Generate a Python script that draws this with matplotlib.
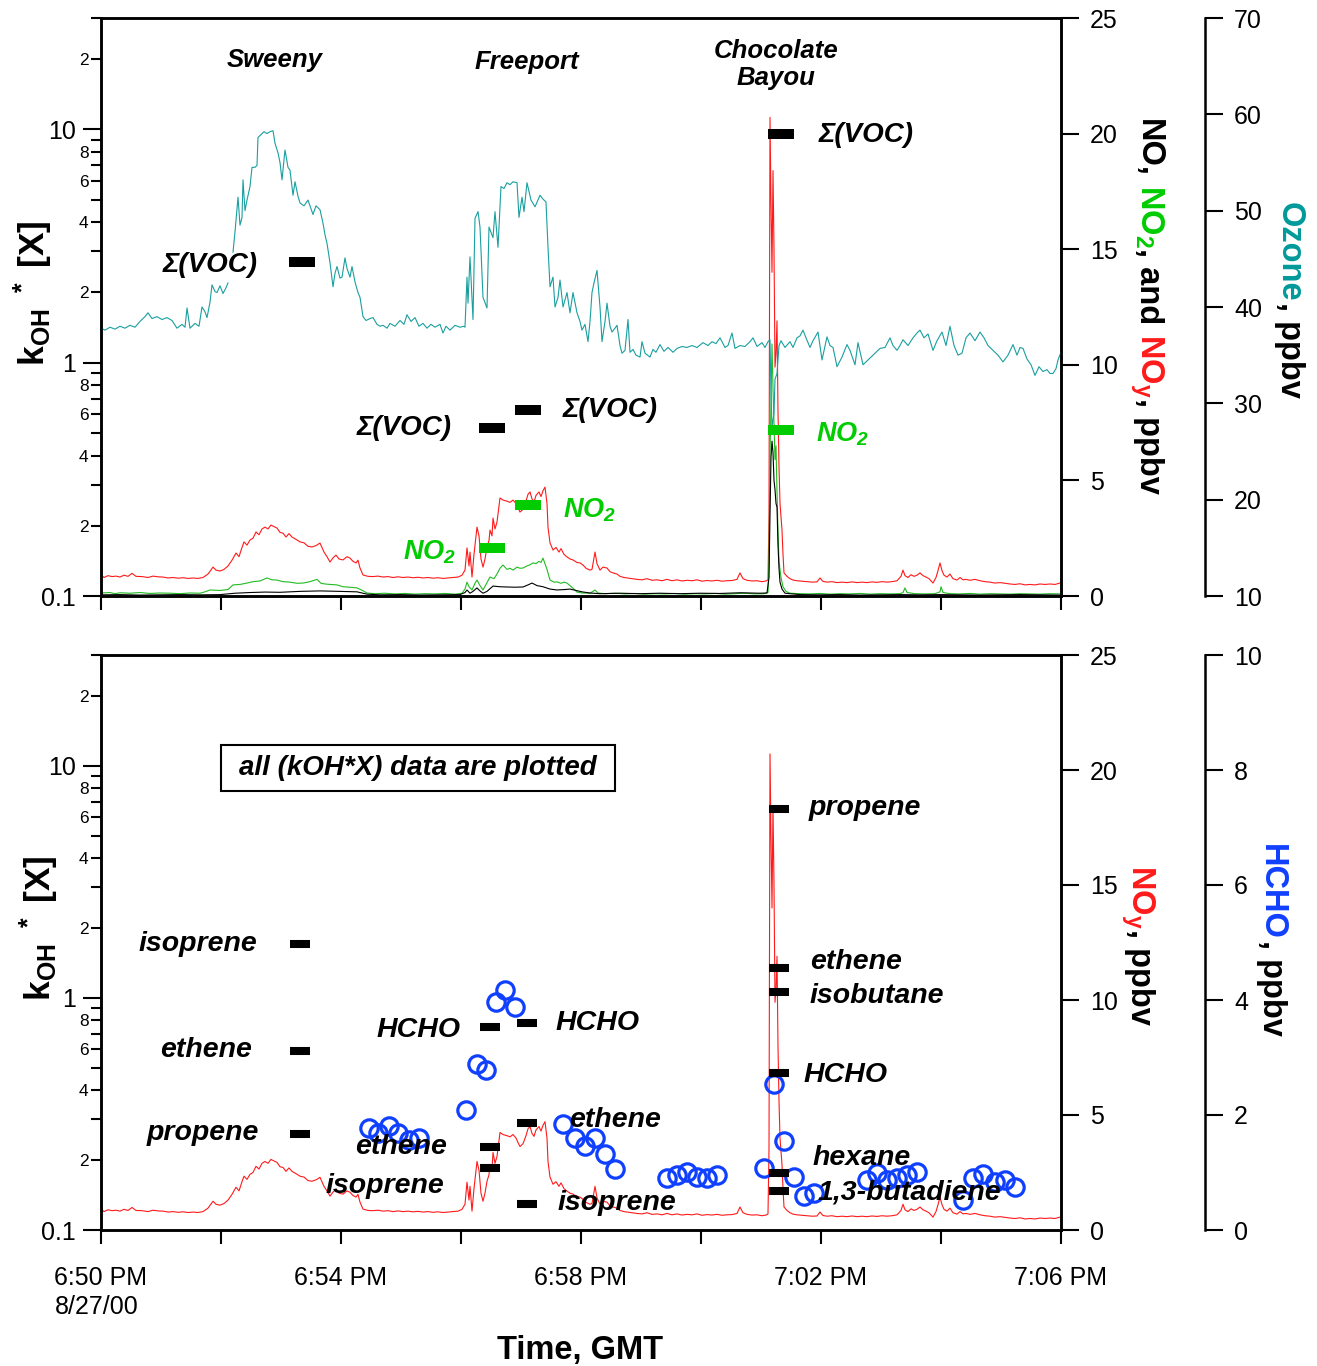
import numpy as np
import matplotlib
matplotlib.use('Agg')
import matplotlib.pyplot as plt
from matplotlib.patches import Rectangle

plt.rcParams['font.family'] = ['Liberation Sans', 'DejaVu Sans']
plt.rcParams['mathtext.default'] = 'regular'

# ---- data (time in seconds after 6:50:00 PM, 8/27/00) ----
o3_t = [0, 4, 9, 14, 19, 24, 29, 34, 39, 44, 47, 51, 56, 61, 66, 71, 76, 81, 84, 86, 89, 94, 98,
        101, 104, 106, 109, 111, 114, 116, 119, 122, 125, 127, 129, 132, 134, 137, 139, 141, 142,
        144, 146, 149, 151, 154, 156, 157, 160, 163, 166, 169, 172, 174, 177, 179, 181, 184, 187,
        189, 192, 194, 197, 199, 203, 207, 210, 212, 215, 219, 222, 224, 226, 229, 232, 234, 236,
        239, 241, 244, 246, 249, 251, 254, 257, 259, 262, 265, 269, 272, 276, 279, 282, 286, 289,
        294, 299, 303, 306, 310, 314, 318, 322, 326, 330, 334, 339, 342, 345, 349, 354, 359, 363,
        364, 366, 367, 369, 372, 374, 377, 379, 382, 386, 388, 392, 394, 397, 400, 403, 406, 409,
        412, 416, 418, 421, 423, 426, 430, 434, 439, 442, 445, 447, 449, 452, 454, 457, 459, 462,
        466, 469, 472, 476, 479, 481, 484, 487, 489, 491, 493, 496, 499, 501, 504, 506, 509, 511,
        514, 516, 519, 521, 524, 527, 529, 532, 535, 539, 541, 544, 549, 552, 555, 559, 563, 567,
        572, 576, 581, 586, 591, 596, 602, 607, 611, 615, 619, 624, 627, 631, 634, 639, 644, 649,
        652, 656, 661, 664, 667, 669, 670, 671, 673, 674, 676, 678, 680, 684, 689, 692, 696, 699,
        702, 705, 709, 712, 717, 721, 726, 729, 732, 736, 741, 746, 749, 754, 757, 762, 767, 772,
        779, 784, 789, 792, 796, 799, 802, 807, 812, 816, 819, 823, 827, 832, 836, 841, 845, 849,
        853, 857, 861, 865, 869, 874, 879, 883, 887, 892, 897, 902, 907, 912, 916, 919, 922, 926,
        930, 934, 938, 942, 946, 949, 952, 955, 957, 960]
o3_v = [37.8, 37.6, 37.9, 37.7, 38.0, 37.8, 38.1, 37.9, 38.5, 39.0, 39.4, 38.8, 39.0, 38.7, 38.9,
        38.6, 37.8, 38.2, 37.9, 39.9, 37.8, 38.3, 38.0, 40.0, 39.5, 38.9, 40.5, 42.3, 41.6, 41.5,
        42.2, 41.4, 42.0, 42.5, np.nan, 45.7, 47.8, 51.4, 48.5, 49.3, 53.2, 50.0, 51.1, 52.5, 54.5,
        54.5, 54.7, 57.6, 57.9, 58.2, 58.0, 58.2, 58.3, 57.0, 56.0, 55.0, 53.2, 56.3, 54.5, 54.2,
        51.6, 53.0, 51.5, 50.8, 50.5, 51.1, 50.2, 49.6, 50.5, 50.1, 48.7, 47.5, 46.6, 44.6, 42.1,
        43.5, 44.2, 43.0, 43.1, 45.1, 44.0, 43.1, 44.2, 42.6, 41.5, 41.0, 39.0, 38.6, 38.8, 38.9,
        38.2, 38.0, 38.1, 37.8, 38.3, 38.0, 38.6, 38.2, 39.2, 38.5, 38.9, 38.0, 38.3, 37.8, 38.2,
        37.9, 38.2, 37.3, 38.0, 37.6, 38.1, 37.9, 38.0, 37.9, 43.1, 40.4, 45.2, 38.7, 49.2, 49.9,
        48.3, 41.0, 39.9, 48.3, 47.2, 49.9, 46.2, 52.5, 52.3, 52.9, 52.7, 53.0, 52.9, 49.3, 51.4,
        49.9, 52.9, 51.1, 50.4, 51.6, 51.2, 50.9, 46.2, 42.1, 43.1, 40.0, 41.0, 42.8, 40.0, 41.5,
        39.4, 41.5, 39.4, 38.5, 37.6, 38.2, 36.4, 38.5, 41.5, 42.5, 43.8, 40.0, 36.4, 38.5, 40.4,
        38.0, 37.4, 37.8, 38.1, 36.0, 35.2, 35.5, 38.7, 35.3, 35.6, 35.0, 34.8, 36.4, 35.2, 34.8,
        35.6, 35.3, 36.1, 35.4, 35.8, 35.3, 35.7, 35.9, 35.8, 36.0, 35.8, 36.3, 36.0, 36.4, 36.2,
        36.8, 35.8, 36.0, 37.3, 35.7, 36.0, 35.9, 36.4, 36.8, 35.9, 36.3, 35.8, 36.4, 36.6, 31.0,
        27.5, 29.0, 32.5, 33.1, 36.0, 36.5, 35.8, 36.4, 35.8, 36.8, 37.0, 37.6, 36.8, 35.8, 36.5,
        37.4, 34.5, 36.9, 36.0, 35.8, 33.8, 34.8, 36.1, 35.5, 34.0, 36.3, 34.0, 34.5, 35.0, 35.7,
        35.8, 36.8, 36.0, 35.5, 36.0, 36.6, 36.0, 36.8, 37.3, 37.6, 36.8, 37.2, 35.5, 36.5, 37.4,
        36.0, 38.0, 36.0, 35.0, 35.2, 36.8, 37.3, 36.5, 37.4, 36.8, 36.0, 35.5, 35.0, 34.3, 35.0,
        36.1, 35.0, 35.8, 35.7, 34.6, 34.0, 32.9, 33.8, 33.3, 33.5, 33.1, 33.1, 33.6, 34.5, 35.3]

noy_t = [0, 3, 7, 11, 15, 19, 23, 27, 31, 35, 41, 47, 52, 57, 62, 67, 72, 77, 82, 87, 92, 97, 102,
         107, 112, 115, 119, 123, 127, 131, 135, 138, 141, 143, 146, 149, 152, 155, 158, 161, 164,
         167, 170, 173, 176, 179, 182, 185, 188, 191, 195, 199, 203, 207, 211, 215, 219, 221, 223,
         226, 229, 232, 235, 238, 242, 246, 249, 252, 255, 257, 259, 262, 267, 272, 277, 282, 287,
         292, 297, 302, 307, 312, 317, 322, 327, 332, 337, 342, 347, 352, 357, 361, 364, 366, 368,
         369, 371, 373, 376, 378, 380, 382, 384, 386, 388, 389, 391, 392, 394, 396, 399, 402, 406,
         409, 412, 415, 417, 419, 422, 425, 427, 429, 431, 433, 435, 438, 440, 442, 444, 446, 447,
         449, 452, 455, 458, 460, 463, 466, 469, 472, 476, 479, 482, 485, 489, 491, 494, 496, 499,
         502, 506, 509, 512, 516, 519, 523, 526, 531, 536, 541, 546, 551, 556, 561, 566, 571, 576,
         581, 586, 591, 596, 601, 606, 611, 616, 621, 626, 631, 636, 639, 642, 646, 651, 656, 661,
         665, 667, 668, 669, 670, 671, 672, 673, 674, 675, 676, 677, 678, 679, 681, 682, 683, 686,
         689, 692, 696, 701, 706, 711, 716, 719, 722, 726, 731, 736, 741, 746, 751, 756, 761, 766,
         771, 776, 781, 786, 791, 796, 800, 802, 804, 807, 810, 813, 816, 819, 822, 825, 828, 832,
         835, 837, 839, 841, 843, 846, 849, 852, 856, 859, 862, 865, 869, 874, 879, 884, 889, 894,
         899, 904, 909, 914, 919, 924, 929, 934, 939, 944, 949, 954, 959]
noy_v = [0.91, 0.80, 0.88, 0.84, 0.86, 0.82, 0.90, 0.85, 0.98, 0.85, 0.84, 0.80, 0.86, 0.83, 0.82,
         0.78, 0.80, 0.77, 0.79, 0.76, 0.78, 0.76, 0.80, 0.95, 1.25, 1.12, 1.08, 1.15, 1.30, 1.55,
         1.86, 1.70, 2.10, 2.34, 2.20, 2.42, 2.50, 2.77, 2.65, 2.90, 2.98, 2.90, 3.07, 3.00, 2.94,
         2.75, 2.72, 2.55, 2.70, 2.55, 2.45, 2.34, 2.30, 2.15, 2.12, 2.18, 2.29, 2.10, 1.90, 1.70,
         1.47, 1.65, 1.77, 1.60, 1.56, 1.70, 1.64, 1.50, 1.43, 1.55, 1.21, 0.91, 0.85, 0.84, 0.86,
         0.82, 0.84, 0.80, 0.83, 0.80, 0.82, 0.79, 0.81, 0.78, 0.80, 0.77, 0.79, 0.76, 0.78, 0.80,
         0.82, 0.90, 1.12, 2.08, 1.30, 1.90, 0.82, 1.80, 2.98, 2.60, 1.60, 1.25, 1.60, 2.12, 2.40,
         2.85, 2.60, 3.37, 2.90, 3.20, 4.24, 4.15, 4.10, 4.05, 4.15, 4.00, 3.80, 3.63, 3.75, 4.10,
         4.40, 4.50, 4.20, 4.07, 4.35, 4.50, 4.30, 4.55, 4.71, 4.00, 2.98, 2.30, 1.99, 2.10, 1.90,
         2.05, 1.80, 1.69, 1.60, 1.56, 1.45, 1.43, 1.34, 1.20, 1.12, 1.15, 1.90, 1.40, 1.12, 1.25,
         1.21, 1.05, 1.00, 0.95, 0.85, 0.80, 0.78, 0.75, 0.72, 0.70, 0.75, 0.68, 0.70, 0.66, 0.72,
         0.66, 0.70, 0.65, 0.68, 0.66, 0.70, 0.64, 0.67, 0.65, 0.68, 0.64, 0.66, 0.67, 0.72, 1.00,
         0.75, 0.68, 0.65, 0.66, 0.62, 0.65, 0.70, 3.5, 20.7, 17.0, 14.0, 18.4, 15.0, 9.9, 10.5,
         11.9, 8.0, 5.6, 4.0, 2.85, 1.8, 1.0, 0.85, 0.75, 0.69, 0.66, 0.64, 0.62, 0.60, 0.61, 0.78,
         0.63, 0.60, 0.62, 0.58, 0.60, 0.58, 0.61, 0.58, 0.60, 0.58, 0.61, 0.59, 0.62, 0.60, 0.62,
         0.66, 0.85, 1.12, 0.88, 0.80, 0.92, 0.85, 0.90, 1.00, 0.88, 0.82, 0.75, 0.56, 0.80, 1.10,
         1.43, 1.10, 0.90, 0.82, 0.95, 0.75, 0.69, 0.80, 0.70, 0.72, 0.68, 0.72, 0.66, 0.62, 0.60,
         0.56, 0.58, 0.55, 0.52, 0.50, 0.53, 0.48, 0.50, 0.48, 0.52, 0.50, 0.52, 0.50, 0.56]

no2_t = [0, 9, 14, 19, 29, 39, 49, 59, 69, 79, 89, 99, 104, 109, 119, 127, 132, 139, 146, 152, 159,
         166, 171, 176, 182, 189, 196, 202, 209, 216, 220, 224, 229, 236, 242, 249, 256, 261, 266,
         274, 284, 294, 304, 314, 324, 334, 344, 354, 361, 364, 366, 368, 371, 374, 376, 379, 382,
         385, 389, 393, 396, 399, 402, 406, 409, 412, 416, 419, 422, 426, 429, 432, 435, 438, 440,
         442, 444, 446, 449, 453, 456, 460, 463, 466, 469, 473, 476, 481, 489, 494, 497, 504, 514,
         524, 534, 544, 554, 564, 574, 584, 594, 604, 614, 624, 634, 644, 654, 663, 667, 668, 669,
         670, 671, 672, 673, 674, 675, 676, 677, 678, 680, 682, 685, 689, 699, 709, 719, 729, 739,
         749, 759, 769, 779, 789, 799, 802, 804, 806, 814, 824, 834, 839, 840, 842, 849, 859, 869,
         879, 889, 899, 909, 919, 929, 939, 949, 959]
no2_v = [0.13, 0.15, 0.10, 0.14, 0.12, 0.15, 0.11, 0.13, 0.12, 0.10, 0.13, 0.12, 0.18, 0.26, 0.24,
         0.28, 0.48, 0.50, 0.56, 0.62, 0.65, 0.78, 0.70, 0.69, 0.62, 0.60, 0.55, 0.56, 0.62, 0.72,
         0.55, 0.52, 0.50, 0.48, 0.40, 0.38, 0.35, 0.25, 0.13, 0.10, 0.12, 0.09, 0.11, 0.08, 0.10,
         0.09, 0.11, 0.08, 0.12, 0.30, 0.60, 0.40, 0.26, 0.55, 0.69, 0.45, 0.26, 0.50, 0.82, 0.75,
         0.95, 1.20, 1.34, 1.15, 1.20, 1.12, 1.25, 1.20, 1.21, 1.30, 1.35, 1.43, 1.40, 1.50, 1.45,
         1.64, 1.40, 1.15, 0.69, 0.60, 0.61, 0.55, 0.60, 0.56, 0.45, 0.30, 0.17, 0.13, 0.12, 0.26,
         0.13, 0.10, 0.12, 0.09, 0.11, 0.08, 0.10, 0.09, 0.11, 0.08, 0.10, 0.09, 0.11, 0.08, 0.10,
         0.12, 0.09, 0.10, 0.15, 1.5, 6.0, 8.5, 10.9, 9.0, 7.5, 5.9, 6.5, 4.5, 2.8, 1.5, 0.8, 0.4,
         0.2, 0.12, 0.10, 0.09, 0.11, 0.08, 0.10, 0.09, 0.11, 0.08, 0.10, 0.09, 0.10, 0.15, 0.35,
         0.15, 0.10, 0.09, 0.10, 0.18, 0.40, 0.15, 0.10, 0.09, 0.11, 0.08, 0.10, 0.09, 0.08, 0.10,
         0.09, 0.08, 0.10, 0.09]

no_t = [0, 19, 39, 59, 79, 99, 119, 134, 149, 164, 179, 199, 219, 239, 256, 266, 279, 299, 319,
        339, 359, 364, 366, 369, 372, 376, 379, 382, 386, 392, 399, 406, 414, 422, 427, 431, 436,
        442, 449, 456, 464, 469, 474, 481, 489, 499, 519, 539, 559, 579, 599, 619, 639, 659, 666,
        668, 669, 670, 671, 672, 673, 674, 675, 676, 677, 678, 679, 681, 684, 699, 719, 739, 759,
        779, 799, 819, 839, 859, 879, 899, 919, 939, 959]
no_v = [0.05, 0.06, 0.04, 0.05, 0.06, 0.05, 0.06, 0.12, 0.15, 0.17, 0.16, 0.20, 0.22, 0.20, 0.18,
        0.08, 0.05, 0.06, 0.04, 0.05, 0.06, 0.15, 0.26, 0.12, 0.20, 0.35, 0.22, 0.12, 0.20, 0.43,
        0.40, 0.39, 0.38, 0.39, 0.48, 0.56, 0.45, 0.40, 0.30, 0.26, 0.28, 0.30, 0.25, 0.18, 0.13,
        0.10, 0.12, 0.10, 0.12, 0.10, 0.12, 0.11, 0.14, 0.12, 0.13, 0.8, 3.5, 6.0, 6.7, 6.2, 5.0,
        4.6, 4.0, 3.85, 2.2, 1.2, 0.6, 0.3, 0.12, 0.06, 0.05, 0.06, 0.04, 0.05, 0.06, 0.05, 0.06,
        0.05, 0.04, 0.05, 0.06, 0.05, 0.04]

hcho_t = [268, 277, 288, 297, 308, 318, 365, 376, 385, 395, 404, 414, 462, 474, 484, 494, 504, 514,
          566, 576, 586, 596, 606, 616, 663, 673, 683, 693, 703, 713, 766, 776, 786, 796, 806, 816,
          862, 872, 882, 894, 904, 914]
hcho_v = [1.77, 1.69, 1.81, 1.69, 1.57, 1.60, 2.09, 2.89, 2.78, 3.97, 4.17, 3.88, 1.84, 1.60, 1.46,
          1.60, 1.32, 1.06, 0.90, 0.96, 1.01, 0.92, 0.90, 0.96, 1.08, 2.54, 1.55, 0.92, 0.59, 0.64,
          0.87, 0.99, 0.87, 0.90, 0.96, 1.01, 0.52, 0.90, 0.97, 0.83, 0.87, 0.75]

# kOH*[X] values, 1/s
voc_t = [201, 391, 427, 680]
voc_k = [2.69, 0.526, 0.628, 9.52]
no2k_t = [391, 427, 680]
no2k_k = [0.161, 0.246, 0.516]

spec_names = ['isoprene', 'ethene', 'propene',
              'HCHO', 'ethene', 'isoprene',
              'HCHO', 'ethene', 'isoprene',
              'propene', 'ethene', 'isobutane', 'HCHO', 'hexane', '1,3-butadiene']
spec_t = [199, 199, 199, 389, 389, 389, 426, 426, 426, 678, 678, 678, 678, 678, 678]
spec_k = [1.70, 0.589, 0.259, 0.746, 0.227, 0.185, 0.776, 0.288, 0.129,
          6.53, 1.34, 1.056, 0.473, 0.176, 0.147]
# label centres in axes fraction
spec_lx = [0.101, 0.109, 0.106, 0.331, 0.3125, 0.296, 0.5167, 0.535, 0.5375,
           0.796, 0.787, 0.808, 0.775, 0.792, 0.842]
spec_ly = [0.497, 0.313, 0.169, 0.348, 0.144, 0.0765, 0.360, 0.191, 0.047,
           0.734, 0.466, 0.407, 0.2696, 0.125, 0.066]

x_ticks = list(range(0, 961, 120))
x_labels = ['6:50 PM\n8/27/00', '', '6:54 PM', '', '6:58 PM', '', '7:02 PM', '', '7:06 PM']

RED = '#ff1a1a'
GREEN = '#00cc00'
TEAL = '#1a9f9f'
BLUE = '#1040ff'

W, H = 1317, 1366
fig = plt.figure(figsize=(W / 100, H / 100), dpi=100)


def box(l, t, r, b):
    return [l / W, 1 - b / H, (r - l) / W, (b - t) / H]


def setup_main(ax, show_xlabels):
    ax.set_yscale('log')
    ax.set_ylim(0.1, 30)
    ax.set_xlim(0, 960)
    minor = [0.2, 0.3, 0.4, 0.5, 0.6, 0.7, 0.8, 0.9, 2, 3, 4, 5, 6, 7, 8, 9, 20, 30]
    mlab = ['2', '', '4', '', '6', '', '8', '', '2', '', '4', '', '6', '', '8', '', '2', '']
    ax.set_yticks([0.1, 1, 10], ['0.1', '1', '10'])
    ax.set_yticks(minor, mlab, minor=True)
    ax.tick_params(axis='y', which='major', length=13, width=1.5, labelsize=18, pad=5)
    ax.tick_params(axis='y', which='minor', length=7, width=1.5, labelsize=12.5, pad=2)
    ax.set_xticks(x_ticks, x_labels if show_xlabels else [''] * len(x_ticks))
    ax.tick_params(axis='x', length=10, width=1.5, labelsize=18, pad=16)
    if show_xlabels:
        first = ax.get_xticklabels()[0]
        first.set_multialignment('left')
        first.set_linespacing(1.25)
    for s in ax.spines.values():
        s.set_linewidth(1.8)
    ax.set_zorder(3)
    ax.patch.set_visible(False)


def setup_right(ax, lo, hi, step, offset=None):
    ax.set_ylim(lo, hi)
    ax.set_yticks(np.arange(lo, hi + 0.01, step))
    ax.tick_params(axis='y', length=13, width=1.5, labelsize=18, pad=8)
    for s in ax.spines.values():
        s.set_linewidth(1.8)
    if offset is not None:
        ax.spines['right'].set_position(('axes', offset))
        for k in ['left', 'top', 'bottom']:
            ax.spines[k].set_visible(False)


# ---------------- top panel ----------------
ax1 = fig.add_axes(box(101, 18, 1061, 596))
r1 = ax1.twinx()
r2 = ax1.twinx()
setup_main(ax1, False)
setup_right(r1, 0, 25, 5)
setup_right(r2, 10, 70, 10, offset=1.15)

r1.plot(noy_t, noy_v, color=RED, lw=0.8)
r1.plot(no2_t, no2_v, color='#22bb22', lw=0.8)
r1.plot(no_t, no_v, color='black', lw=0.8)
r2.plot(o3_t, o3_v, color=TEAL, lw=0.8)

ax1.plot(voc_t, voc_k, ls='none', marker='_', ms=18.7, mew=7.2, color='black')
ax1.plot(no2k_t, no2k_k, ls='none', marker='_', ms=18.7, mew=7.2, color=GREEN)

lab = dict(fontsize=20.5, fontweight='bold', style='italic', ha='center', va='center',
           transform=ax1.transAxes)
ax1.text(0.181, 0.927, 'Sweeny', **dict(lab, fontsize=18.5))
ax1.text(0.444, 0.924, 'Freeport', **dict(lab, fontsize=18.5))
ax1.text(0.703, 0.920, 'Chocolate\nBayou', linespacing=1.15, **dict(lab, fontsize=18.5))
for fx, fy in [(0.1135, 0.5727), (0.3156, 0.2907), (0.530, 0.3218), (0.797, 0.7976)]:
    ax1.text(fx, fy, '\u03a3(VOC)', **dict(lab, fontsize=20))
for fx, fy in [(0.3427, 0.075), (0.509, 0.149), (0.773, 0.279)]:
    ax1.text(fx, fy, 'NO$_2$', color=GREEN, **dict(lab, fontsize=19.5))

# ---------------- bottom panel ----------------
ax2 = fig.add_axes(box(101, 655, 1061, 1230))
r3 = ax2.twinx()
r4 = ax2.twinx()
setup_main(ax2, True)
setup_right(r3, 0, 25, 5)
setup_right(r4, 0, 10, 2, offset=1.15)

r3.plot(noy_t, noy_v, color=RED, lw=0.8)
r4.plot(hcho_t, hcho_v, ls='none', marker='o', ms=12.5, mew=2.3, mfc='none', mec=BLUE)

ax2.plot(spec_t, spec_k, ls='none', marker='_', ms=15, mew=5.8, color='black')
lab2 = dict(lab, transform=ax2.transAxes)
for name, fx, fy in zip(spec_names, spec_lx, spec_ly):
    ax2.text(fx, fy, name, **lab2)
ax2.add_patch(Rectangle((0.125, 0.7635), 0.4104, 0.080, transform=ax2.transAxes,
                        fc='white', ec='black', lw=1.5, zorder=4))
ax2.text(0.330, 0.8035, 'all (kOH*X) data are plotted', zorder=5, **dict(lab2, fontsize=20))


# ---------------- axis titles ----------------
def stack_label(x_px, y_mid_px, pieces, size, rotation=270):
    rend = fig.canvas.get_renderer()
    texts = [fig.text(0, 0, s, color=c, fontsize=size, fontweight='bold', rotation=rotation,
                      rotation_mode='anchor', ha='left', va='baseline') for s, c in pieces]
    lens = [t.get_window_extent(rend).height for t in texts]
    total = sum(lens)
    if rotation == 270:
        pos, step = y_mid_px - total / 2, 1
    else:
        pos, step = y_mid_px + total / 2, -1
    for t, L in zip(texts, lens):
        t.set_position((x_px / W, 1 - pos / H))
        pos += step * L


stack_label(1140, 306, [('NO,', 'black'), (' NO$_2$', GREEN), (', and', 'black'),
                        (' NO$_y$', RED), (', ppbv', 'black')], 23.5)
stack_label(1281, 300, [('Ozone', '#009999'), (', ppbv', 'black')], 23.5)
stack_label(1131, 945, [('NO$_y$', RED), (', ppbv', 'black')], 23.5)
stack_label(1263, 940, [('HCHO', BLUE), (', ppbv', 'black')], 23.5)

for cx, cy in ((33, 293), (39, 928)):
    fig.text(cx / W, 1 - cy / H, 'k$_{OH}$ $^*$ [X]', rotation=90, ha='center', va='center',
             fontsize=25.5, fontweight='bold')
fig.text(580 / W, 1 - 1350 / H, 'Time, GMT', ha='center', va='center', fontsize=23.5,
         fontweight='bold')

fig.savefig('out.png', dpi=100)
